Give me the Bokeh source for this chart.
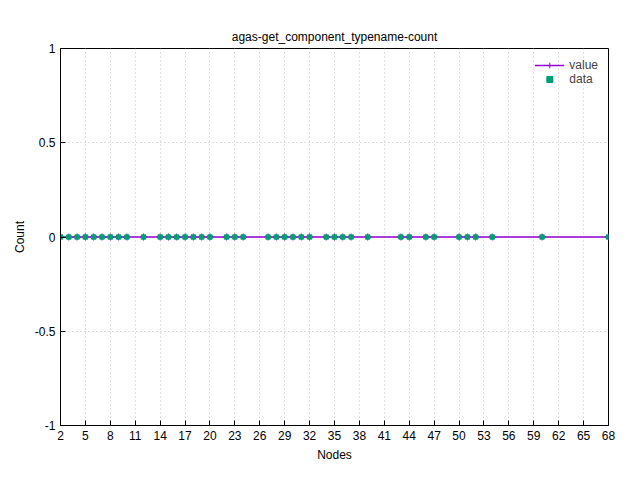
from bokeh.plotting import figure
from bokeh.models import Legend, LegendItem, FixedTicker
from bokeh.embed import file_html
from bokeh.resources import INLINE

# node counts with a measurement, all counts zero
nodes = [2, 3, 4, 5, 6, 7, 8, 9, 10, 12, 14, 15, 16, 17, 18, 19, 20, 22, 23, 24,
         27, 28, 29, 30, 31, 32, 34, 35, 36, 37, 39, 43, 44, 46, 47, 50, 51, 52,
         54, 60, 68]
counts = [0] * len(nodes)
x_ticks = list(range(2, 69, 3))
y_ticks = [-1, -0.5, 0, 0.5, 1]

FONT = "Liberation Sans"

p = figure(width=624, height=464, x_range=(2, 68), y_range=(-1, 1),
           title="agas-get_component_typename-count",
           toolbar_location=None, output_backend="svg",
           min_border_left=60, min_border_right=16, min_border_bottom=38,
           min_border_top=48)
p.title.align = "center"
p.title.text_font = FONT
p.title.text_font_style = "normal"
p.title.text_font_size = "12px"
p.title.text_color = "black"

p.xaxis.ticker = FixedTicker(ticks=x_ticks)
p.yaxis.ticker = FixedTicker(ticks=y_ticks)
p.yaxis.major_label_overrides = {-1: "-1", -0.5: "-0.5", 0: "0", 0.5: "0.5", 1: "1"}
for ax in (p.xaxis, p.yaxis):
    ax.major_label_text_font = FONT
    ax.major_label_text_font_size = "12px"
    ax.major_label_text_color = "black"
    ax.axis_label_text_font = FONT
    ax.axis_label_text_font_size = "12px"
    ax.axis_label_text_font_style = "normal"
    ax.axis_label_text_color = "black"
    ax.minor_tick_line_color = None
    ax.major_tick_in = 5
    ax.major_tick_out = 0
    ax.axis_line_color = "black"
p.xaxis.axis_label = "Nodes"
p.yaxis.axis_label = "Count"

p.grid.grid_line_color = "#c0c0c0"
p.grid.grid_line_dash = "1 3"
p.outline_line_color = "black"

line = p.line(nodes, counts, line_color="#9400d3", line_width=1.5)
cross = p.scatter(nodes, counts, marker="cross", size=7, line_color="#9400d3")
dots = p.scatter(nodes, counts, marker="square", size=4, fill_color="#009e73",
                 line_color="#009e73", line_width=1.5)

legend = Legend(items=[LegendItem(label="value", renderers=[line, cross]),
                       LegendItem(label="data", renderers=[dots])],
                location="top_right", border_line_color=None,
                background_fill_alpha=0, label_text_font=FONT,
                label_text_font_size="12px", glyph_width=30,
                label_height=14, glyph_height=14, spacing=0)
p.add_layout(legend)

open("out.html", "w").write(file_html(p, INLINE))
